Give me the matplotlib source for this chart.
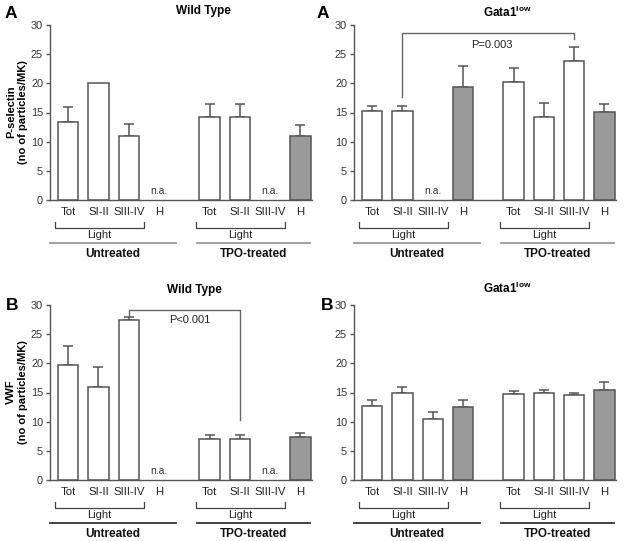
import numpy as np
import matplotlib
matplotlib.use('Agg')
import matplotlib.pyplot as plt

plt.rcParams['font.family'] = ['Liberation Sans', 'DejaVu Sans']

categories = ['Tot', 'SI-II', 'SIII-IV', 'H', 'Tot', 'SI-II', 'SIII-IV', 'H']
positions = [0, 1, 2, 3, 4.67, 5.67, 6.67, 7.67]
shaded = [False, False, False, True, False, False, False, True]
groups = ['Untreated', 'TPO-treated']

# values (nan = n.a.) and top of error bar
psel_wt = [13.3, 20.0, 11.0, np.nan, 14.3, 14.3, np.nan, 10.9]
psel_wt_err = [15.9, 20.0, 13.1, np.nan, 16.4, 16.4, np.nan, 12.8]
psel_gata = [15.2, 15.2, np.nan, 19.3, 20.2, 14.3, 23.8, 15.1]
psel_gata_err = [16.2, 16.2, np.nan, 23.0, 22.7, 16.7, 26.3, 16.5]
vwf_wt = [19.8, 16.0, 27.5, np.nan, 7.0, 7.0, np.nan, 7.3]
vwf_wt_err = [23.0, 19.3, 28.0, np.nan, 7.8, 7.8, np.nan, 8.1]
vwf_gata = [12.7, 15.0, 10.5, 12.6, 14.8, 15.0, 14.5, 15.5]
vwf_gata_err = [13.8, 15.9, 11.7, 13.7, 15.3, 15.5, 15.0, 16.8]

W, H = 624, 541
fig = plt.figure(figsize=(W / 100, H / 100), dpi=100)

EDGE = '#555555'
GRAY_FILL = '#9a9a9a'


def px_axes(left, zero_y, top_y, right):
    return fig.add_axes([left / W, (H - zero_y) / H, (right - left) / W, (zero_y - top_y) / H])


def draw_panel(ax, vals, errs, line_color):
    vals = np.array(vals, dtype=float)
    errs = np.array(errs, dtype=float)
    for x, v, e, s in zip(positions, vals, errs, shaded):
        if np.isnan(v):
            ax.text(x, 0.6, 'n.a.', ha='center', va='bottom', fontsize=7.5, color='#333333')
            continue
        ax.bar(x, v, width=0.67, color=GRAY_FILL if s else 'white', edgecolor=EDGE, linewidth=1.1, zorder=2)
        if e > v:
            ax.errorbar(x, v, yerr=[[0], [e - v]], fmt='none', ecolor=EDGE, elinewidth=1.1,
                        capsize=3.5, capthick=1.1, zorder=1)
    ax.set_xlim(-0.6, 8.05)
    ax.set_ylim(0, 30)
    ax.set_yticks(range(0, 31, 5))
    ax.set_xticks([])
    for sp in ['top', 'right']:
        ax.spines[sp].set_visible(False)
    for sp in ['left', 'bottom']:
        ax.spines[sp].set_color('#555555')
        ax.spines[sp].set_linewidth(1.0)
    ax.tick_params(axis='y', labelsize=7.8, length=3, width=1.0, color='#555555', labelcolor='#333333', pad=2)

    # labels below axis, in pixel offsets from x axis
    h_px = ax.get_position().height * H
    tr = ax.get_xaxis_transform()

    def fy(px):
        return -px / h_px

    for x, c in zip(positions, categories):
        ax.text(x, fy(12), c, ha='center', va='center', fontsize=8.2, color='#222222',
                transform=tr, clip_on=False)
    for start, end in [(positions[0], positions[2]), (positions[4], positions[6])]:
        xl, xr = start - 0.45, end + 0.5
        ax.plot([xl, xl, xr, xr], [fy(22), fy(28), fy(28), fy(22)], color='#444444', lw=0.9,
                transform=tr, clip_on=False)
        ax.text((xl + xr) / 2, fy(35), 'Light', ha='center', va='center', fontsize=8,
                color='#222222', transform=tr, clip_on=False)
    for (xl, xr), g in zip([(-0.6, 3.55), (4.25, 8.0)], groups):
        ax.plot([xl, xr], [fy(43), fy(43)], color=line_color, lw=1.3, transform=tr, clip_on=False)
        ax.text((xl + xr) / 2, fy(54), g, ha='center', va='center', fontsize=8.5,
                fontweight='bold', color='#111111', transform=tr, clip_on=False)


# top row
ax1 = px_axes(50, 200, 25, 312)
draw_panel(ax1, psel_wt, psel_wt_err, '#999999')
ax2 = px_axes(354, 200, 25, 616)
draw_panel(ax2, psel_gata, psel_gata_err, '#999999')
# bottom row
ax3 = px_axes(50, 480, 305, 312)
draw_panel(ax3, vwf_wt, vwf_wt_err, '#333333')
ax4 = px_axes(354, 480, 305, 616)
draw_panel(ax4, vwf_gata, vwf_gata_err, '#333333')

# significance brackets
ax2.plot([positions[1], positions[1], positions[6], positions[6]], [17.6, 28.7, 28.7, 27.6],
         color='#666666', lw=1.0, clip_on=False)
ax2.text(3.95, 26.6, 'P=0.003', ha='center', va='center', fontsize=8, color='#222222')
ax3.plot([positions[2], positions[2], positions[5], positions[5]], [28.2, 29.1, 29.1, 10.3],
         color='#666666', lw=1.0, clip_on=False)
ax3.text(4.0, 27.4, 'P<0.001', ha='center', va='center', fontsize=8, color='#222222')


def ftext(x, y, s, **kw):
    fig.text(x / W, 1 - y / H, s, **kw)


ftext(203, 11, 'Wild Type', ha='center', va='center', fontsize=8.5, fontweight='bold')
ftext(507, 12, r'Gata1$^{\mathregular{low}}$', ha='center', va='center', fontsize=8.5, fontweight='bold')
ftext(194, 290, 'Wild Type', ha='center', va='center', fontsize=8.5, fontweight='bold')
ftext(507, 288, r'Gata1$^{\mathregular{low}}$', ha='center', va='center', fontsize=8.5, fontweight='bold')

ftext(11, 14, 'A', ha='center', va='center', fontsize=12.5, fontweight='bold')
ftext(323, 14, 'A', ha='center', va='center', fontsize=12.5, fontweight='bold')
ftext(12, 305, 'B', ha='center', va='center', fontsize=12.5, fontweight='bold')
ftext(327, 305, 'B', ha='center', va='center', fontsize=12.5, fontweight='bold')

ftext(17, 112, 'P-selectin\n(no of particles/MK)', ha='center', va='center', rotation=90,
      fontsize=8, fontweight='bold', linespacing=1.2)
ftext(17, 392, 'VWF\n(no of particles/MK)', ha='center', va='center', rotation=90,
      fontsize=8, fontweight='bold', linespacing=1.2)

fig.savefig('out.png', dpi=100)
